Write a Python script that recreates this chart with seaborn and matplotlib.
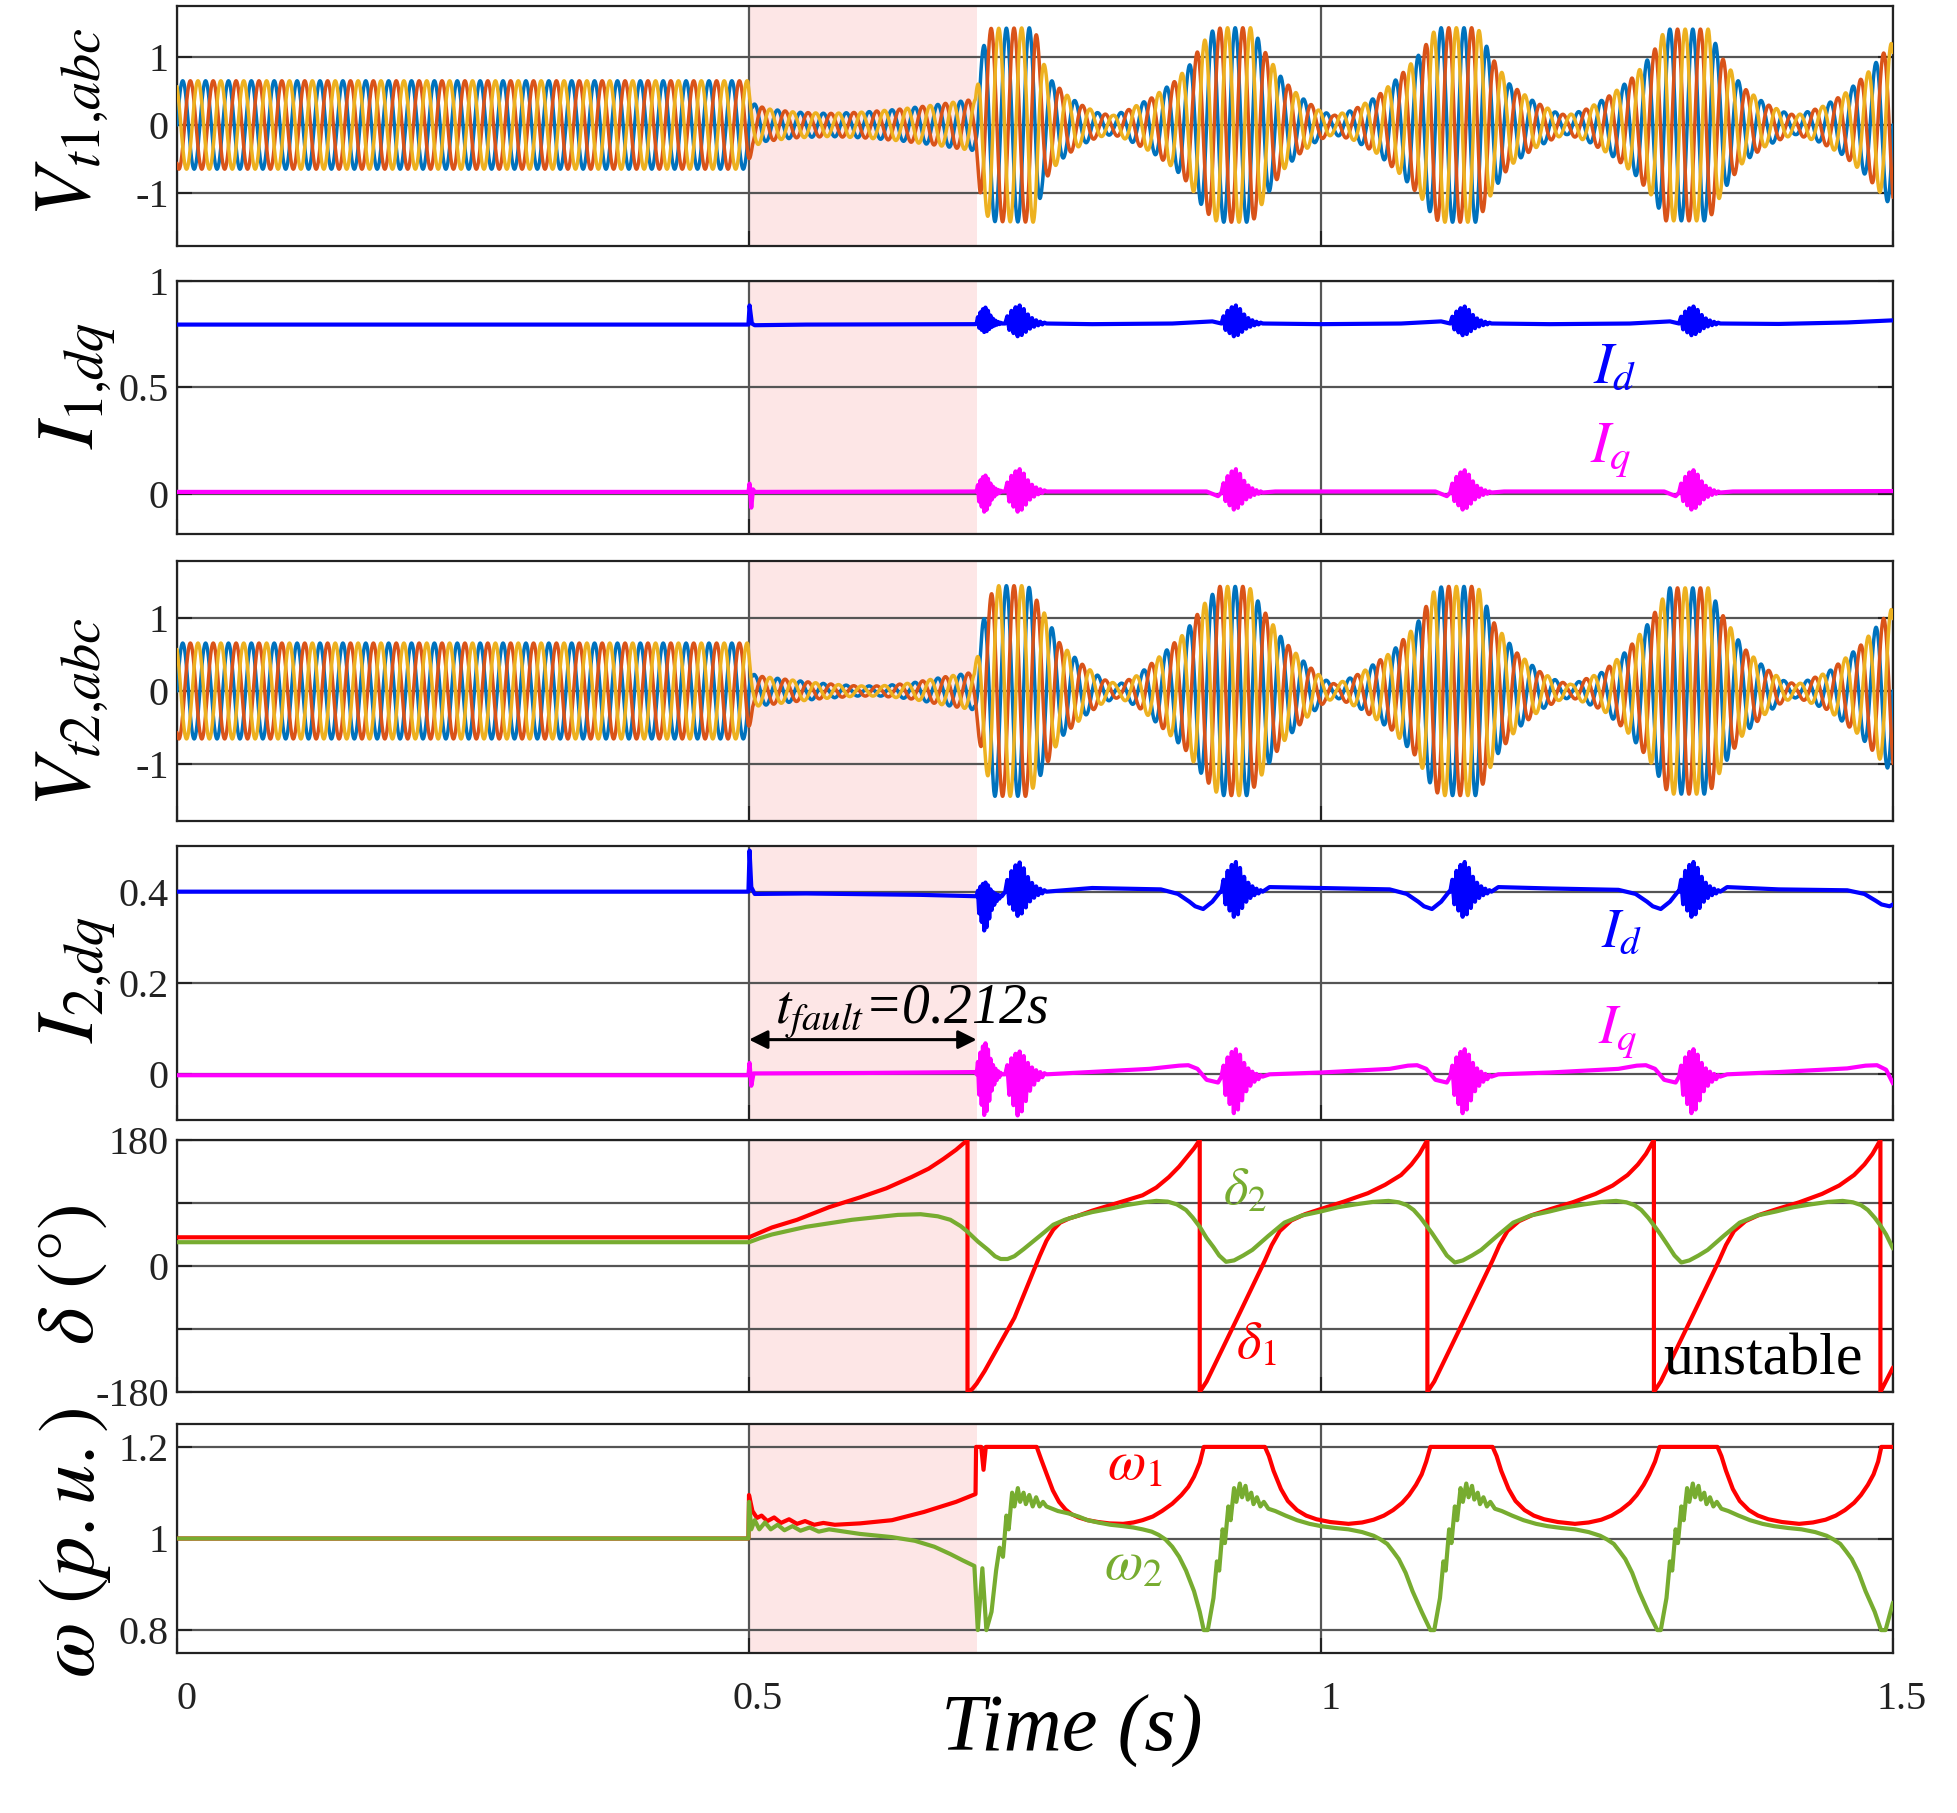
import numpy as np
import matplotlib
matplotlib.use("Agg")
import matplotlib.pyplot as plt
import matplotlib.transforms as mtransforms
import seaborn as sns

# ------------------------------------------------------------------ data
T_END = 1.5
FAULT_SPAN = [0.5, 0.699]
F_GRID = 50.0            # Hz carrier (25 cycles per 0.5 s)
N_SAMPLES = 9001

# peak envelope of the three-phase terminal voltages (time s, amplitude p.u.)
v1_env_pts = [(0.000, 0.65), (0.499, 0.65), (0.503, 0.32), (0.515, 0.24), (0.540, 0.19),
              (0.570, 0.17), (0.600, 0.19), (0.630, 0.23), (0.660, 0.29), (0.685, 0.35),
              (0.698, 0.38), (0.702, 1.00), (0.710, 1.42), (0.750, 1.43), (0.756, 0.98),
              (0.763, 0.68), (0.777, 0.45), (0.790, 0.30), (0.805, 0.18), (0.818, 0.14),
              (0.831, 0.22), (0.852, 0.40), (0.872, 0.64), (0.885, 0.88), (0.897, 1.22),
              (0.906, 1.40), (0.913, 1.43), (0.940, 1.43), (0.952, 1.05), (0.967, 0.66),
              (0.981, 0.43), (0.998, 0.22), (1.011, 0.14), (1.028, 0.22), (1.049, 0.42),
              (1.069, 0.72), (1.088, 1.08), (1.099, 1.38), (1.105, 1.43), (1.137, 1.43),
              (1.150, 0.98), (1.165, 0.60), (1.186, 0.35), (1.205, 0.19), (1.215, 0.14),
              (1.233, 0.24), (1.254, 0.45), (1.274, 0.72), (1.290, 1.06), (1.301, 1.41),
              (1.339, 1.41), (1.351, 0.98), (1.369, 0.55), (1.389, 0.31), (1.405, 0.19),
              (1.415, 0.14), (1.437, 0.26), (1.457, 0.45), (1.477, 0.75), (1.500, 1.23)]
v2_env_pts = [(0.000, 0.66), (0.499, 0.66), (0.503, 0.25), (0.506, 0.21), (0.533, 0.16),
              (0.560, 0.11), (0.594, 0.07), (0.615, 0.07), (0.642, 0.11), (0.669, 0.19),
              (0.697, 0.26), (0.704, 0.93), (0.714, 1.45), (0.744, 1.45), (0.758, 1.08),
              (0.772, 0.65), (0.792, 0.36), (0.810, 0.16), (0.823, 0.09), (0.840, 0.22),
              (0.860, 0.49), (0.881, 0.80), (0.898, 1.20), (0.911, 1.44), (0.937, 1.44),
              (0.952, 1.06), (0.967, 0.70), (0.988, 0.36), (1.003, 0.16), (1.013, 0.09),
              (1.035, 0.25), (1.062, 0.54), (1.083, 0.90), (1.099, 1.38), (1.106, 1.44),
              (1.137, 1.44), (1.152, 0.92), (1.171, 0.53), (1.192, 0.26), (1.208, 0.13),
              (1.219, 0.09), (1.246, 0.26), (1.267, 0.55), (1.287, 0.95), (1.304, 1.42),
              (1.339, 1.42), (1.351, 1.05), (1.369, 0.60), (1.389, 0.31), (1.405, 0.14),
              (1.416, 0.09), (1.443, 0.26), (1.470, 0.60), (1.500, 1.15)]

# dq currents: slow baseline (time, value)
id1_pts = [(0.0, 0.795), (0.4995, 0.795), (0.5005, 0.885), (0.5025, 0.80), (0.505, 0.792),
           (0.55, 0.795), (0.65, 0.796), (0.698, 0.797), (0.76, 0.80), (0.80, 0.797),
           (0.87, 0.80), (0.905, 0.81), (0.95, 0.80), (1.0, 0.797), (1.07, 0.80),
           (1.105, 0.81), (1.15, 0.80), (1.2, 0.797), (1.27, 0.80), (1.305, 0.81),
           (1.35, 0.80), (1.40, 0.798), (1.46, 0.805), (1.50, 0.815)]
iq1_pts = [(0.0, 0.008), (0.4995, 0.008), (0.5005, 0.047), (0.502, -0.066), (0.5035, 0.02),
           (0.505, 0.008), (0.698, 0.01), (0.76, 0.01), (0.90, 0.01), (0.91, -0.012),
           (0.913, 0.0), (0.96, 0.01), (1.10, 0.01), (1.11, -0.012), (1.113, 0.0),
           (1.16, 0.01), (1.30, 0.01), (1.31, -0.012), (1.313, 0.0), (1.36, 0.01), (1.5, 0.012)]
id2_pts = [(0.0, 0.40), (0.4995, 0.40), (0.5005, 0.49), (0.502, 0.41), (0.505, 0.395),
           (0.55, 0.396), (0.65, 0.393), (0.698, 0.39), (0.76, 0.41), (0.80, 0.408),
           (0.86, 0.405), (0.875, 0.395), (0.885, 0.378), (0.89, 0.368), (0.897, 0.362),
           (0.905, 0.378), (0.912, 0.40), (0.955, 0.41), (1.0, 0.408), (1.06, 0.405),
           (1.075, 0.395), (1.085, 0.378), (1.09, 0.368), (1.097, 0.362), (1.105, 0.378),
           (1.112, 0.40), (1.155, 0.41), (1.2, 0.407), (1.26, 0.404), (1.275, 0.395),
           (1.285, 0.378), (1.29, 0.368), (1.297, 0.362), (1.305, 0.378), (1.312, 0.40),
           (1.355, 0.41), (1.4, 0.405), (1.46, 0.403), (1.475, 0.395), (1.485, 0.38),
           (1.49, 0.372), (1.497, 0.368), (1.5, 0.372)]
iq2_pts = [(0.0, -0.002), (0.4995, -0.002), (0.5005, 0.025), (0.502, -0.025), (0.504, 0.002),
           (0.6, 0.003), (0.698, 0.005), (0.76, 0.005), (0.85, 0.012), (0.876, 0.019),
           (0.884, 0.02), (0.892, 0.012), (0.9, -0.012), (0.91, -0.018), (0.913, -0.005),
           (0.955, 0.0), (1.0, 0.004), (1.06, 0.012), (1.076, 0.019), (1.084, 0.02),
           (1.092, 0.012), (1.1, -0.012), (1.11, -0.018), (1.113, -0.005), (1.155, 0.0),
           (1.2, 0.004), (1.26, 0.012), (1.276, 0.019), (1.284, 0.02), (1.292, 0.012),
           (1.3, -0.012), (1.31, -0.018), (1.313, -0.005), (1.355, 0.0), (1.4, 0.005),
           (1.46, 0.013), (1.476, 0.019), (1.486, 0.02), (1.494, 0.01), (1.5, -0.02)]

# oscillation bursts: normalised swing pattern, then (start, step, level, swing up, swing down)
burst_shape = [0.0, 0.4, -0.5, 0.7, -0.75, 0.9, -1.0, 1.0, -0.9, 0.8, -0.65,
               0.5, -0.4, 0.3, -0.25, 0.18, -0.14, 0.1, -0.07, 0.05, 0.0]
id1_bursts = [(0.699, 0.0011, 0.80, 0.075, 0.04), (0.724, 0.0018, 0.80, 0.085, 0.06),
              (0.913, 0.0018, 0.80, 0.085, 0.06), (1.113, 0.0018, 0.80, 0.08, 0.055),
              (1.313, 0.0018, 0.80, 0.08, 0.055)]
iq1_bursts = [(0.699, 0.0011, 0.01, 0.075, 0.095), (0.724, 0.0018, 0.01, 0.105, 0.095),
              (0.913, 0.0018, 0.005, 0.11, 0.08), (1.113, 0.0018, 0.005, 0.105, 0.08),
              (1.313, 0.0018, 0.005, 0.105, 0.08)]
id2_bursts = [(0.699, 0.0011, 0.39, 0.03, 0.075), (0.724, 0.0018, 0.40, 0.064, 0.053),
              (0.913, 0.0018, 0.40, 0.065, 0.055), (1.113, 0.0018, 0.40, 0.065, 0.055),
              (1.313, 0.0018, 0.40, 0.065, 0.055)]
iq2_bursts = [(0.699, 0.0011, 0.0, 0.068, 0.089), (0.724, 0.0018, 0.0, 0.05, 0.09),
              (0.913, 0.0018, -0.005, 0.06, 0.08), (1.113, 0.0018, -0.005, 0.06, 0.08),
              (1.313, 0.0018, -0.005, 0.06, 0.08)]

# power angles (deg); repeated time = wrap from +180 to -180
delta1_pts = [(0.0, 41), (0.5, 41), (0.51, 48), (0.52, 55), (0.542, 66), (0.57, 84),
              (0.597, 98), (0.62, 111), (0.642, 127), (0.657, 139), (0.67, 153), (0.681, 166),
              (0.691, 180), (0.691, -180), (0.695, -176), (0.699, -168), (0.706, -150),
              (0.732, -74), (0.754, 14), (0.760, 36), (0.766, 52), (0.772, 62), (0.780, 68),
              (0.788, 72), (0.800, 79), (0.816, 87), (0.830, 94), (0.844, 101), (0.856, 112),
              (0.867, 127), (0.876, 142), (0.883, 156), (0.889, 168), (0.894, 180),
              (0.894, -180), (0.9, -165), (0.929, -67), (0.951, 8), (0.957, 30), (0.964, 50),
              (0.974, 65), (0.986, 74), (1.001, 82), (1.02, 92), (1.041, 104), (1.056, 116),
              (1.07, 130), (1.079, 145), (1.086, 160), (1.093, 180), (1.093, -180),
              (1.099, -165), (1.128, -67), (1.150, 8), (1.156, 30), (1.163, 50), (1.173, 64),
              (1.185, 73), (1.2, 81), (1.22, 91), (1.24, 103), (1.255, 115), (1.268, 130),
              (1.277, 145), (1.284, 160), (1.291, 180), (1.291, -180), (1.297, -165),
              (1.326, -67), (1.348, 8), (1.354, 30), (1.361, 50), (1.371, 64), (1.383, 73),
              (1.398, 81), (1.418, 91), (1.438, 103), (1.453, 115), (1.466, 130),
              (1.475, 145), (1.482, 160), (1.489, 180), (1.489, -180), (1.5, -145)]
delta2_pts = [(0.0, 34), (0.5, 34), (0.51, 40), (0.52, 45), (0.55, 56), (0.59, 66),
              (0.63, 73), (0.65, 74), (0.665, 71), (0.676, 66), (0.685, 57), (0.691, 49),
              (0.7, 35), (0.709, 23), (0.715, 14), (0.72, 10), (0.726, 10), (0.732, 14),
              (0.74, 24), (0.749, 36), (0.758, 48), (0.766, 59), (0.776, 66), (0.788, 72),
              (0.80, 77), (0.816, 82), (0.83, 87), (0.845, 91), (0.856, 93), (0.866, 92),
              (0.874, 88), (0.882, 80), (0.888, 69), (0.894, 56), (0.9, 40), (0.906, 27),
              (0.911, 15), (0.917, 6), (0.924, 8), (0.932, 15), (0.94, 23), (0.954, 43),
              (0.968, 62), (0.983, 72), (1.0, 78), (1.015, 84), (1.03, 88), (1.045, 91.5),
              (1.059, 93), (1.068, 91), (1.075, 87), (1.081, 80), (1.087, 69), (1.092, 58),
              (1.097, 47), (1.104, 30), (1.11, 15), (1.117, 5), (1.124, 8), (1.132, 15),
              (1.14, 23), (1.154, 43), (1.168, 62), (1.183, 72), (1.2, 78), (1.215, 84),
              (1.23, 88), (1.245, 91.5), (1.258, 93), (1.267, 91), (1.274, 87), (1.28, 80),
              (1.286, 69), (1.291, 58), (1.296, 47), (1.303, 30), (1.309, 15), (1.315, 5),
              (1.322, 8), (1.33, 15), (1.338, 23), (1.352, 43), (1.366, 62), (1.381, 72),
              (1.398, 78), (1.413, 84), (1.428, 88), (1.443, 91.5), (1.456, 93), (1.465, 91),
              (1.472, 87), (1.478, 80), (1.484, 69), (1.489, 58), (1.494, 45), (1.5, 25)]

# rotor speeds (p.u.)
omega1_pts = [(0.0, 1.0), (0.4995, 1.0), (0.5, 1.095), (0.503, 1.06), (0.507, 1.045),
              (0.511, 1.05), (0.516, 1.038), (0.522, 1.046), (0.528, 1.034), (0.535, 1.042),
              (0.542, 1.032), (0.549, 1.038), (0.557, 1.03), (0.565, 1.034), (0.575, 1.03),
              (0.597, 1.033), (0.625, 1.04), (0.653, 1.058), (0.681, 1.08), (0.698, 1.097),
              (0.6985, 1.2), (0.703, 1.2), (0.705, 1.15), (0.707, 1.2), (0.7515, 1.2),
              (0.7555, 1.172), (0.760, 1.142), (0.7656, 1.105), (0.771, 1.08), (0.7768, 1.063),
              (0.782, 1.053), (0.788, 1.046), (0.796, 1.04), (0.805, 1.036), (0.815, 1.033),
              (0.827, 1.032), (0.836, 1.035), (0.844, 1.04), (0.853, 1.048), (0.861, 1.06),
              (0.870, 1.076), (0.878, 1.095), (0.884, 1.113), (0.889, 1.135), (0.894, 1.165),
              (0.8975, 1.2), (0.951, 1.2), (0.9545, 1.18), (0.9585, 1.148), (0.965, 1.108),
              (0.971, 1.082), (0.979, 1.062), (0.987, 1.05), (0.996, 1.042), (1.008, 1.036),
              (1.024, 1.032), (1.036, 1.035), (1.046, 1.041), (1.055, 1.05), (1.063, 1.062),
              (1.071, 1.078), (1.077, 1.095), (1.083, 1.117), (1.088, 1.14), (1.092, 1.168),
              (1.0956, 1.2), (1.150, 1.2), (1.1535, 1.18), (1.1575, 1.148), (1.164, 1.108),
              (1.170, 1.082), (1.178, 1.062), (1.186, 1.05), (1.195, 1.042), (1.207, 1.036),
              (1.222, 1.032), (1.234, 1.035), (1.245, 1.041), (1.254, 1.05), (1.262, 1.062),
              (1.270, 1.078), (1.276, 1.095), (1.282, 1.117), (1.287, 1.14), (1.292, 1.168),
              (1.296, 1.2), (1.3466, 1.2), (1.350, 1.18), (1.354, 1.148), (1.36, 1.108),
              (1.366, 1.082), (1.374, 1.062), (1.382, 1.05), (1.391, 1.042), (1.403, 1.036),
              (1.418, 1.032), (1.430, 1.035), (1.441, 1.041), (1.450, 1.05), (1.458, 1.062),
              (1.466, 1.078), (1.472, 1.095), (1.478, 1.117), (1.483, 1.14), (1.487, 1.168),
              (1.4898, 1.2), (1.5, 1.2)]
omega2_pts = [(0.0, 1.0), (0.4995, 1.0), (0.5, 1.08), (0.502, 1.02), (0.505, 1.04),
              (0.509, 1.02), (0.514, 1.035), (0.519, 1.02), (0.525, 1.03), (0.531, 1.018),
              (0.538, 1.027), (0.545, 1.017), (0.553, 1.024), (0.561, 1.015), (0.57, 1.02),
              (0.597, 1.01), (0.625, 1.003), (0.645, 0.995), (0.662, 0.982), (0.676, 0.966),
              (0.687, 0.952), (0.697, 0.94), (0.700, 0.80), (0.704, 0.935), (0.7075, 0.80),
              (0.712, 0.84), (0.716, 0.93), (0.719, 0.98), (0.722, 0.96), (0.725, 1.05),
              (0.727, 1.02), (0.730, 1.10), (0.732, 1.07), (0.735, 1.11), (0.737, 1.08),
              (0.740, 1.10), (0.742, 1.075), (0.745, 1.095), (0.748, 1.07), (0.751, 1.09),
              (0.754, 1.07), (0.757, 1.08), (0.76, 1.07), (0.77, 1.06), (0.779, 1.055),
              (0.788, 1.048), (0.796, 1.04), (0.805, 1.035), (0.816, 1.03), (0.827, 1.027),
              (0.836, 1.024), (0.844, 1.02), (0.852, 1.015), (0.858, 1.008), (0.864, 0.998),
              (0.870, 0.982), (0.876, 0.96), (0.882, 0.93), (0.889, 0.885), (0.894, 0.84),
              (0.8975, 0.80), (0.901, 0.80), (0.906, 0.87), (0.909, 0.95), (0.911, 0.93),
              (0.914, 1.02), (0.916, 0.99), (0.919, 1.07), (0.921, 1.04), (0.924, 1.11),
              (0.926, 1.08), (0.929, 1.12), (0.931, 1.09), (0.934, 1.115), (0.936, 1.085),
              (0.939, 1.1), (0.941, 1.075), (0.944, 1.09), (0.947, 1.07), (0.95, 1.08),
              (0.954, 1.065), (0.96, 1.06), (0.969, 1.05), (0.979, 1.04), (0.99, 1.032),
              (1.0, 1.027), (1.012, 1.023), (1.024, 1.02), (1.036, 1.014), (1.046, 1.006),
              (1.052, 0.998), (1.058, 0.988), (1.063, 0.972), (1.068, 0.955), (1.074, 0.925),
              (1.08, 0.885), (1.088, 0.84), (1.0956, 0.80), (1.099, 0.80), (1.104, 0.87),
              (1.107, 0.95), (1.109, 0.93), (1.112, 1.02), (1.114, 0.99), (1.117, 1.07),
              (1.119, 1.04), (1.122, 1.11), (1.124, 1.08), (1.127, 1.12), (1.129, 1.09),
              (1.132, 1.115), (1.134, 1.085), (1.137, 1.1), (1.139, 1.075), (1.142, 1.09),
              (1.145, 1.07), (1.148, 1.08), (1.152, 1.065), (1.158, 1.06), (1.167, 1.05),
              (1.177, 1.04), (1.188, 1.032), (1.198, 1.027), (1.21, 1.023), (1.222, 1.02),
              (1.234, 1.014), (1.244, 1.006), (1.25, 0.998), (1.256, 0.988), (1.261, 0.972),
              (1.266, 0.955), (1.272, 0.925), (1.278, 0.885), (1.286, 0.84), (1.294, 0.80),
              (1.297, 0.80), (1.302, 0.87), (1.305, 0.95), (1.307, 0.93), (1.310, 1.02),
              (1.312, 0.99), (1.315, 1.07), (1.317, 1.04), (1.320, 1.11), (1.322, 1.08),
              (1.325, 1.12), (1.327, 1.09), (1.330, 1.115), (1.332, 1.085), (1.335, 1.1),
              (1.337, 1.075), (1.340, 1.09), (1.343, 1.07), (1.346, 1.08), (1.350, 1.065),
              (1.356, 1.06), (1.365, 1.05), (1.375, 1.04), (1.386, 1.032), (1.396, 1.027),
              (1.408, 1.023), (1.420, 1.02), (1.432, 1.014), (1.442, 1.006), (1.448, 0.998),
              (1.454, 0.988), (1.459, 0.972), (1.464, 0.955), (1.470, 0.925), (1.476, 0.885),
              (1.484, 0.84), (1.4895, 0.80), (1.4935, 0.80), (1.5, 0.86)]

x_ticks = [0, 0.5, 1, 1.5]
x_ticklabels = ["0", "0.5", "1", "1.5"]
panel_yticks = [[-1, 0, 1], [0, 0.5, 1], [-1, 0, 1], [0, 0.2, 0.4],
                [-180, -90, 0, 90, 180], [0.8, 1.0, 1.2]]
panel_yticklabels = [["-1", "0", "1"], ["0", "0.5", "1"], ["-1", "0", "1"],
                     ["0", "0.2", "0.4"], ["-180", "", "0", "", "180"], ["0.8", "1", "1.2"]]
panel_ylims = [(-1.78, 1.75), (-0.19, 1.0), (-1.79, 1.79), (-0.1, 0.5), (-180, 180), (0.75, 1.25)]
panel_ylabels = [r"$V_{t\mathit{1}{,}abc}$", r"$I_{\mathit{1}{,}dq}$", r"$V_{t\mathit{2}{,}abc}$",
                 r"$I_{\mathit{2}{,}dq}$", r"$\delta\ (\degree)$", r"$\omega\ (p.u.)$"]

# ------------------------------------------------------------------ helpers
def split(pts):
    t, v = zip(*pts)
    return np.asarray(t, float), np.asarray(v, float)


def with_bursts(pts, bursts):
    t, v = split(pts)
    keep = np.ones(len(t), bool)
    shape = np.asarray(burst_shape)
    bt_all, bv_all = [], []
    for t0, dt, lvl, up, dn in bursts:
        bt = t0 + dt * np.arange(len(shape))
        bv = lvl + np.where(shape > 0, up * shape, dn * shape)
        keep &= ~((t >= bt[0]) & (t <= bt[-1]))
        bt_all.append(bt)
        bv_all.append(bv)
    T = np.concatenate([t[keep]] + bt_all)
    V = np.concatenate([v[keep]] + bv_all)
    o = np.argsort(T, kind="stable")
    return T[o], V[o]


def three_phase(env_pts):
    et, ev = split(env_pts)
    t = np.linspace(0, T_END, N_SAMPLES)
    amp = np.interp(t, et, ev)
    w = 2 * np.pi * F_GRID * t
    return t, [amp * np.sin(w), amp * np.sin(w - 2 * np.pi / 3), amp * np.sin(w + 2 * np.pi / 3)]


# ------------------------------------------------------------------ style
sns.set_theme(style="white")
plt.rcParams.update({
    "font.family": "serif",
    "font.serif": ["Liberation Serif", "STIXGeneral", "DejaVu Serif"],
    "mathtext.fontset": "stix",
    "axes.unicode_minus": False,
})
SERIF = ["Liberation Serif", "STIXGeneral", "DejaVu Serif"]

W, H = 1957, 1813
fig = plt.figure(figsize=(W / 100, H / 100), dpi=100)
left_px, right_px = 177, 1893
rows_px = [(6, 246), (281, 534), (561, 821), (846, 1120), (1140, 1392), (1424, 1653)]
axes = []
for top, bot in rows_px:
    ax = fig.add_axes([left_px / W, 1 - bot / H, (right_px - left_px) / W, (bot - top) / H])
    axes.append(ax)

PHASE_COLORS = ["#0072BD", "#D95319", "#EDB120"]
GRID_C = "#555555"


def lp(ax, x, y, color, lw):
    sns.lineplot(x=x, y=y, ax=ax, color=color, linewidth=lw, estimator=None,
                 sort=False, errorbar=None, legend=False, zorder=3)


# panel 1 & 3: voltages
for ax, env in ((axes[0], v1_env_pts), (axes[2], v2_env_pts)):
    t, phases = three_phase(env)
    for ph, c in zip(phases, PHASE_COLORS):
        lp(ax, t, ph, c, 2.5)

# panel 2 & 4: currents
for ax, (dpts, db), (qpts, qb) in ((axes[1], (id1_pts, id1_bursts), (iq1_pts, iq1_bursts)),
                                   (axes[3], (id2_pts, id2_bursts), (iq2_pts, iq2_bursts))):
    tx, vx = with_bursts(dpts, db)
    lp(ax, tx, vx, "#0000FF", 3.0)
    tx, vx = with_bursts(qpts, qb)
    lp(ax, tx, vx, "#FF00FF", 3.0)

# panel 5: angles
t, v = split(delta1_pts)
lp(axes[4], t, v, "#FF0000", 3.0)
t, v = split(delta2_pts)
lp(axes[4], t, v, "#77AC30", 3.0)

# panel 6: speeds
t, v = split(omega1_pts)
lp(axes[5], t, v, "#FF0000", 3.0)
t, v = split(omega2_pts)
lp(axes[5], t, v, "#77AC30", 3.0)

# common axis formatting
for i, ax in enumerate(axes):
    ax.axvspan(FAULT_SPAN[0], FAULT_SPAN[1], color="#fde6e6", zorder=0.1, lw=0)
    ax.set_xlim(0, T_END)
    ax.set_ylim(*panel_ylims[i])
    ax.set_xticks(x_ticks)
    ax.set_yticks(panel_yticks[i])
    ax.set_yticklabels(panel_yticklabels[i], family=SERIF)
    ax.set_axisbelow(True)
    ax.grid(True, color=GRID_C, linewidth=1.6)
    ax.tick_params(axis="both", direction="in", length=11, width=1.5, colors="#222222",
                   labelsize=29, left=True, right=True, bottom=True, top=False, pad=6)
    for s in ax.spines.values():
        s.set_color("#222222")
        s.set_linewidth(1.6)
        s.set_visible(True)
    ax.set_xlabel("")
    ax.set_ylabel("")
    if i < len(axes) - 1:
        ax.set_xticklabels([])
    else:
        ax.set_xticklabels(x_ticklabels, family=SERIF)
        ax.tick_params(axis="x", pad=20)
        off = mtransforms.ScaledTranslation(9 / 100, 0, fig.dpi_scale_trans)
        for lab in ax.get_xticklabels():
            lab.set_transform(lab.get_transform() + off)

# y labels
label_centers = [(73, 122), (78, 385), (73, 712), (78, 979), (73, 1275), (75, 1543)]
for (cx, cy), txt in zip(label_centers, panel_ylabels):
    fig.text(cx / W, 1 - cy / H, txt, rotation=90, ha="center", va="center",
             fontsize=58, color="black")

fig.text(1072 / W, 1 - 1731 / H, "Time (s)", ha="center", va="center",
         fontsize=58, style="italic", family=SERIF, color="black")

# annotations
axes[1].text(1.238, 0.52, r"$I_d$", color="#0000FF", fontsize=42, va="baseline")
axes[1].text(1.235, 0.15, r"$I_q$", color="#FF00FF", fontsize=42, va="baseline")
axes[3].text(1.245, 0.28, r"$I_d$", color="#0000FF", fontsize=40, va="baseline")
axes[3].text(1.242, 0.068, r"$I_q$", color="#FF00FF", fontsize=40, va="baseline")
axes[3].annotate("", xy=(FAULT_SPAN[0], 0.076), xytext=(FAULT_SPAN[1], 0.076),
                 arrowprops=dict(arrowstyle="<|-|>", color="black", lw=2.2,
                                 mutation_scale=28, shrinkA=0, shrinkB=0))
axes[3].text(0.523, 0.112, r"$t_{fault}$=0.212s", fontsize=40, style="italic",
             family=SERIF, va="baseline", ha="left", color="black")
axes[4].text(0.914, 88, r"$\delta_{\mathit{2}}$", color="#77AC30", fontsize=38, va="baseline")
axes[4].text(0.926, -133, r"$\delta_{\mathit{1}}$", color="#FF0000", fontsize=38, va="baseline")
axes[4].text(1.299, -155, "unstable", color="black", fontsize=43, family=SERIF,
             va="baseline")
axes[5].text(0.813, 1.128, r"$\omega_{\mathit{1}}$", color="#FF0000", fontsize=40, va="baseline")
axes[5].text(0.81, 0.91, r"$\omega_{\mathit{2}}$", color="#77AC30", fontsize=40, va="baseline")

fig.savefig("out.png", dpi=100)
